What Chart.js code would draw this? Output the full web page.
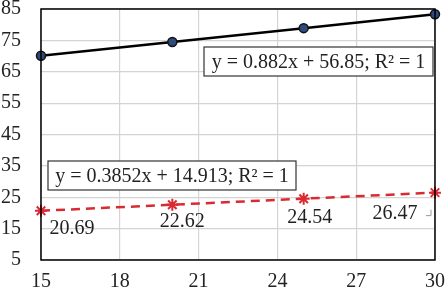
<!DOCTYPE html>
<html>
<head>
<meta charset="utf-8">
<script src="https://cdn.jsdelivr.net/npm/chart.js@4"></script>
<style>
  html, body { margin: 0; padding: 0; background: #fff; }
  #wrap { width: 446px; height: 294px; }
</style>
</head>
<body>
<div id="wrap"><canvas id="myChart" width="446" height="294"></canvas></div>
<script>
// data
const xValues = [15, 20, 25, 30];
const upperValues = [70.08, 74.49, 78.9, 83.31];
const lowerValues = [20.69, 22.62, 24.54, 26.47];
const lowerLabels = ['20.69', '22.62', '24.54', '26.47'];
const upperEquation = 'y = 0.882x + 56.85; R² = 1';
const lowerEquation = 'y = 0.3852x + 14.913; R² = 1';

const FONT = '"Liberation Serif", "Times New Roman", serif';

// label offsets from each red point (px)
const labelOffsets = [[31, 18], [10, 17], [6, 19], [-40, 21]];

const overlay = {
    id: 'overlay',
    afterDatasetsDraw(chart) {
        const ctx = chart.ctx;
        const a = chart.chartArea;
        const xs = chart.scales.x, ys = chart.scales.y;
        ctx.save();

        // frame
        ctx.strokeStyle = '#000';
        ctx.lineWidth = 1.5;
        ctx.strokeRect(a.left, a.top, a.right - a.left, a.bottom - a.top);

        // data labels
        ctx.font = '20px ' + FONT;
        ctx.fillStyle = '#222';
        ctx.textAlign = 'center';
        ctx.textBaseline = 'middle';
        lowerValues.forEach((v, i) => {
            const px = xs.getPixelForValue(xValues[i]);
            const py = ys.getPixelForValue(v);
            ctx.fillText(lowerLabels[i], px + labelOffsets[i][0], py + labelOffsets[i][1]);
        });

        // leader line for last label
        const lx = xs.getPixelForValue(xValues[3]);
        const ly = ys.getPixelForValue(lowerValues[3]);
        ctx.strokeStyle = '#999';
        ctx.lineWidth = 1;
        ctx.beginPath();
        ctx.moveTo(lx - 9, ly + 23);
        ctx.lineTo(lx - 4, ly + 23);
        ctx.lineTo(lx - 4, ly + 17);
        ctx.stroke();

        // equation boxes
        function eqBox(text, x1, y1, x2, y2) {
            ctx.fillStyle = '#fff';
            ctx.fillRect(x1, y1, x2 - x1, y2 - y1);
            ctx.strokeStyle = '#333';
            ctx.lineWidth = 1.2;
            ctx.strokeRect(x1, y1, x2 - x1, y2 - y1);
            ctx.fillStyle = '#222';
            ctx.textAlign = 'center';
            ctx.fillText(text, (x1 + x2) / 2, (y1 + y2) / 2 + 1);
        }
        eqBox(upperEquation, a.left + 163, a.top + 38, a.right - 2, a.top + 67);
        eqBox(lowerEquation, a.left + 7, a.top + 152, a.left + 255, a.top + 181);

        ctx.restore();
    }
};

document.addEventListener('DOMContentLoaded', function () {
    const ctx = document.getElementById('myChart');

    new Chart(ctx, {
        type: 'scatter',
        data: {
            datasets: [{
                label: 'upper',
                data: xValues.map((x, i) => ({ x: x, y: upperValues[i] })),
                showLine: true,
                borderColor: '#000',
                borderWidth: 2.5,
                pointStyle: 'circle',
                pointRadius: 4.5,
                pointBackgroundColor: '#2d4a7c',
                pointBorderColor: '#111',
                pointBorderWidth: 1.5,
                clip: false
            }, {
                label: 'lower',
                data: xValues.map((x, i) => ({ x: x, y: lowerValues[i] })),
                showLine: true,
                borderColor: '#d92a32',
                borderWidth: 2.5,
                borderDash: [9, 6],
                pointStyle: 'star',
                pointRadius: 6,
                pointBorderColor: '#d92a32',
                pointBorderWidth: 2,
                clip: false
            }]
        },
        options: {
            responsive: false,
            animation: false,
            layout: { padding: { top: 9, right: 11, left: 0, bottom: 0 } },
            plugins: {
                legend: { display: false },
                tooltip: { enabled: false }
            },
            scales: {
                x: {
                    type: 'linear',
                    min: 15,
                    max: 30,
                    ticks: {
                        stepSize: 3,
                        color: '#222',
                        padding: 10,
                        maxRotation: 0,
                        font: { family: FONT, size: 20 }
                    },
                    grid: { color: '#d4d4d4', lineWidth: 1.2, drawTicks: false },
                    border: { display: false },
                    afterFit: function (s) {
                        s.height = 34;
                        s.paddingLeft = 0;
                        s.paddingRight = 0;
                    }
                },
                y: {
                    min: 5,
                    max: 85,
                    ticks: {
                        stepSize: 10,
                        color: '#222',
                        padding: 20,
                        font: { family: FONT, size: 20 }
                    },
                    grid: { color: '#d4d4d4', lineWidth: 1.2, drawTicks: false },
                    border: { display: false },
                    afterFit: function (s) {
                        s.width = 41;
                        s.paddingTop = 0;
                        s.paddingBottom = 0;
                    }
                }
            }
        },
        plugins: [overlay]
    });
});
</script>
</body>
</html>
